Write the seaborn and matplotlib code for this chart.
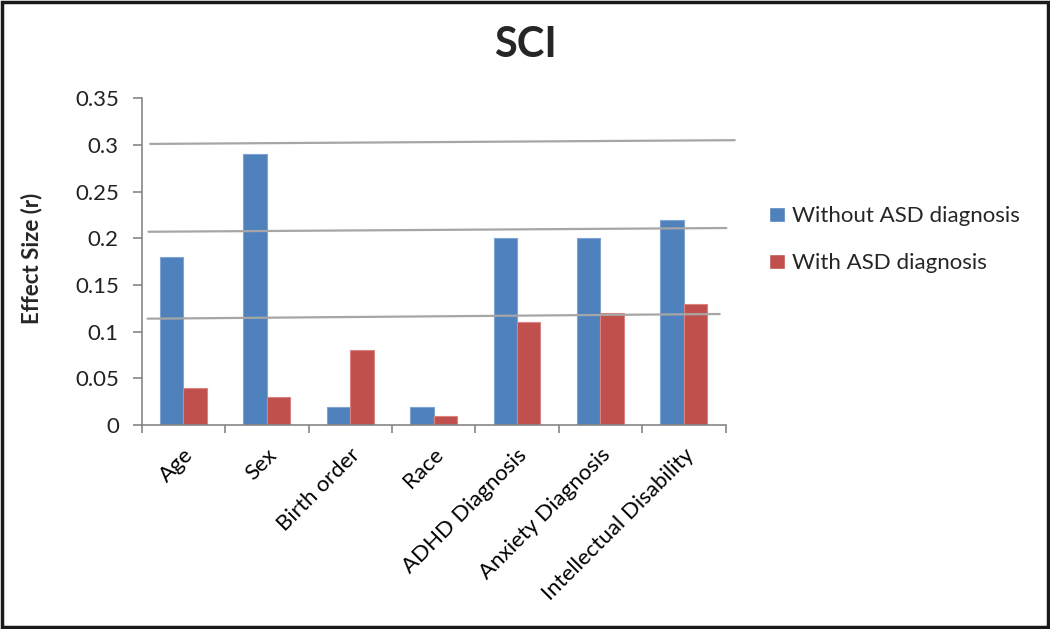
import matplotlib
matplotlib.use("Agg")
import matplotlib.pyplot as plt
import numpy as np
import pandas as pd
import seaborn as sns
from matplotlib.patches import Rectangle

CATEGORIES = ["Age", "Sex", "Birth order", "Race", "ADHD Diagnosis",
              "Anxiety Diagnosis", "Intellectual Disability"]
WITHOUT_ASD = [0.18, 0.29, 0.02, 0.02, 0.20, 0.20, 0.22]
WITH_ASD = [0.04, 0.03, 0.08, 0.01, 0.11, 0.12, 0.13]
SERIES = ["Without ASD diagnosis", "With ASD diagnosis"]

# slightly tilted gray rules drawn over the chart (left end -> right end)
RULE_X_LEFT = [-0.40, -0.42, -0.43]
RULE_X_RIGHT = [6.61, 6.51, 6.43]
RULE_Y_LEFT = [0.301, 0.207, 0.114]
RULE_Y_RIGHT = [0.305, 0.211, 0.119]

COLORS = ["#4F81BD", "#C0504D"]
EDGES = ["#7FA4D4", "#D98481"]


def main() -> None:
    sns.set_theme(style="white")
    plt.rcParams["font.family"] = ["Lato", "DejaVu Sans"]

    df = pd.DataFrame({
        "category": CATEGORIES * 2,
        "value": WITHOUT_ASD + WITH_ASD,
        "series": [SERIES[0]] * len(CATEGORIES) + [SERIES[1]] * len(CATEGORIES),
    })

    fig = plt.figure(figsize=(10.5, 6.29), dpi=100)
    ax = fig.add_axes([0.135, 0.324, 0.556, 0.52])

    sns.barplot(data=df, x="category", y="value", hue="series",
                palette=COLORS, saturation=1, width=0.56, ax=ax, legend=True)
    for cont, ec in zip(ax.containers, EDGES):
        for bar in cont:
            bar.set_edgecolor(ec)
            bar.set_linewidth(0.8)

    for xl, xr, yl, yr in zip(RULE_X_LEFT, RULE_X_RIGHT, RULE_Y_LEFT, RULE_Y_RIGHT):
        ax.plot([xl, xr], [yl, yr], color="#A6A6A6", lw=1.6, clip_on=False, zorder=5)

    ax.set_xlim(-0.5, len(CATEGORIES) - 0.5)
    ax.set_ylim(0, 0.35)
    ax.set_yticks(np.arange(0, 0.351, 0.05))
    ax.set_yticklabels(["0", "0.05", "0.1", "0.15", "0.2", "0.25", "0.3", "0.35"])
    ax.set_xticks(range(len(CATEGORIES)))
    ax.set_xticklabels(CATEGORIES, rotation=45, ha="right", rotation_mode="anchor")
    ax.set_xticks(np.arange(-0.5, len(CATEGORIES), 1.0), minor=True)
    ax.tick_params(axis="x", which="major", length=0, labelsize=16, pad=14, colors="#000000")
    ax.tick_params(axis="x", which="minor", length=6, width=1.2, color="#868686", direction="out")
    ax.tick_params(axis="y", length=6.5, width=1.2, color="#868686", direction="out",
                   labelsize=16, pad=10, labelcolor="#222222")
    ax.tick_params(axis="both", which="both", bottom=True, left=True)

    for side in ["top", "right"]:
        ax.spines[side].set_visible(False)
    for side in ["left", "bottom"]:
        ax.spines[side].set_color("#868686")
        ax.spines[side].set_linewidth(1.2)

    ax.set_xlabel("")
    ax.set_ylabel("Effect Size (r)", fontsize=16, fontweight="bold")
    ax.yaxis.set_label_coords(-0.17, 0.51)
    fig.text(0.5, 0.928, "SCI", fontsize=30, fontweight="bold", ha="center", va="center")

    ax.legend(loc="center left", bbox_to_anchor=(1.041, 0.567), frameon=False,
              fontsize=16, handlelength=0.7, handleheight=0.7, handletextpad=0.3,
              labelspacing=1.2)

    fig.patches.append(Rectangle((0.002, 0.003), 0.996, 0.994, transform=fig.transFigure,
                                 fill=False, edgecolor="#1a1a1a", lw=2.5))

    fig.savefig("out.png", dpi=100)
    plt.close(fig)


if __name__ == "__main__":
    main()
